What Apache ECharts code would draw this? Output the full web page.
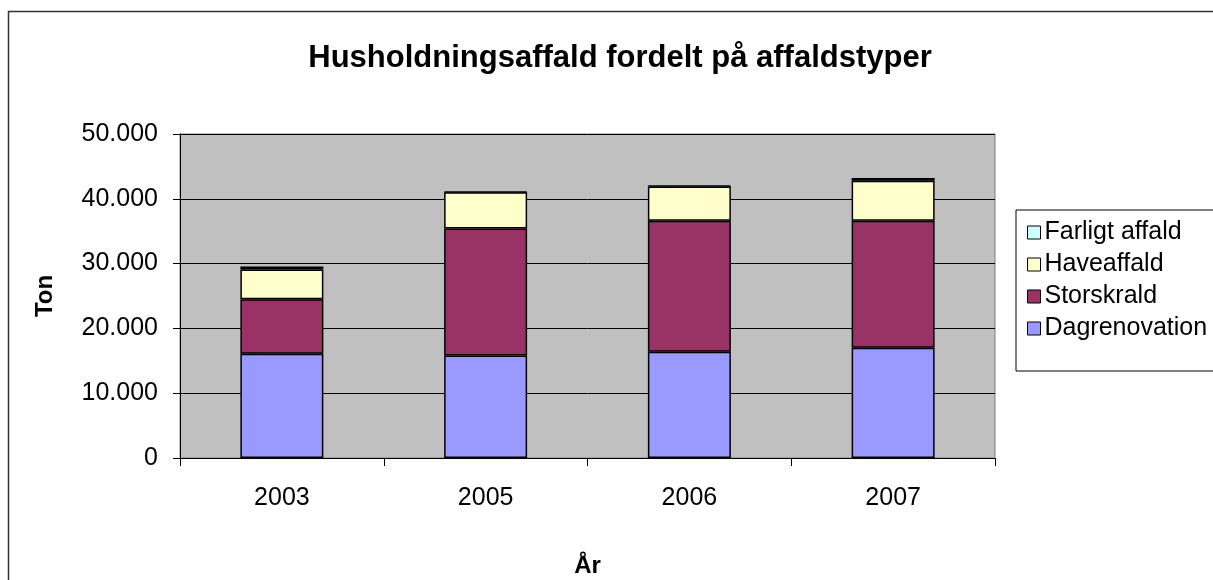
<!DOCTYPE html>
<html>
<head>
<meta charset="utf-8">
<script src="https://cdn.jsdelivr.net/npm/echarts@6/dist/echarts.min.js"></script>
<style>
  html, body { margin: 0; padding: 0; background: #fff; }
  #chart { width: 1213px; height: 580px; }
</style>
</head>
<body>
<div id="chart"></div>
<script>
const years = ['2003', '2005', '2006', '2007']
const dagrenovation = [16100, 15800, 16400, 17000]
const storskrald = [8400, 19600, 20200, 19600]
const haveaffald = [4600, 5600, 5300, 6200]
const farligtAffald = [450, 120, 120, 420]

const font = 'Arial, "Liberation Sans", sans-serif'

function barSeries(name, data, color) {
  return {
    name,
    type: 'bar',
    stack: 'total',
    data,
    barWidth: 83,
    itemStyle: { color, borderColor: '#000', borderWidth: 1.5 }
  }
}

const chart = echarts.init(document.getElementById('chart'))
chart.setOption({
  animation: false,
  textStyle: { fontFamily: font },
  title: {
    text: 'Husholdningsaffald fordelt på affaldstyper',
    left: 615,
    textAlign: 'center',
    top: 38,
    textStyle: { fontSize: 31, fontWeight: 'bold', color: '#000', fontFamily: font }
  },
  graphic: [{
    type: 'rect',
    shape: { x: 8.5, y: 11.5, width: 1300, height: 700 },
    style: { fill: 'none', stroke: '#333', lineWidth: 1.5 },
    z: -1
  }],
  legend: {
    orient: 'vertical',
    left: 1016,
    top: 210,
    data: ['Farligt affald', 'Haveaffald', 'Storskrald', 'Dagrenovation'],
    icon: 'rect',
    itemWidth: 13,
    itemHeight: 13,
    itemGap: 7,
    padding: [10, 40, 30, 11],
    borderColor: '#000',
    borderWidth: 1,
    itemStyle: { borderColor: '#000', borderWidth: 1 },
    textStyle: { fontSize: 25, color: '#000', fontFamily: font, padding: [0, 0, 0, -1] }
  },
  grid: {
    left: 180,
    right: 218,
    top: 134,
    bottom: 122,
    outerBoundsMode: 'none',
    show: true,
    backgroundColor: '#C0C0C0',
    borderColor: '#808080',
    borderWidth: 1
  },
  xAxis: {
    type: 'category',
    data: years,
    name: 'År',
    nameLocation: 'middle',
    nameGap: 96,
    nameTextStyle: { fontSize: 24, fontWeight: 'bold', color: '#000' },
    axisLine: { lineStyle: { color: '#000', width: 1 } },
    axisTick: { show: true, length: 8, lineStyle: { color: '#000' } },
    axisLabel: { fontSize: 25, color: '#000', margin: 28 }
  },
  yAxis: {
    type: 'value',
    min: 0,
    max: 50000,
    interval: 10000,
    name: 'Ton',
    nameLocation: 'middle',
    nameGap: 123,
    nameTextStyle: { fontSize: 24, fontWeight: 'bold', color: '#000' },
    axisLine: { show: true, lineStyle: { color: '#000', width: 1 } },
    axisTick: { show: true, length: 7, lineStyle: { color: '#000' } },
    axisLabel: {
      fontSize: 25,
      color: '#000',
      margin: 22,
      formatter: v => String(v).replace(/\B(?=(\d{3})+(?!\d))/g, '.')
    },
    splitLine: { lineStyle: { color: '#000', width: 1 } }
  },
  series: [
    barSeries('Dagrenovation', dagrenovation, '#9999FF'),
    barSeries('Storskrald', storskrald, '#993366'),
    barSeries('Haveaffald', haveaffald, '#FFFFCC'),
    barSeries('Farligt affald', farligtAffald, '#CCFFFF')
  ]
})
</script>
</body>
</html>
